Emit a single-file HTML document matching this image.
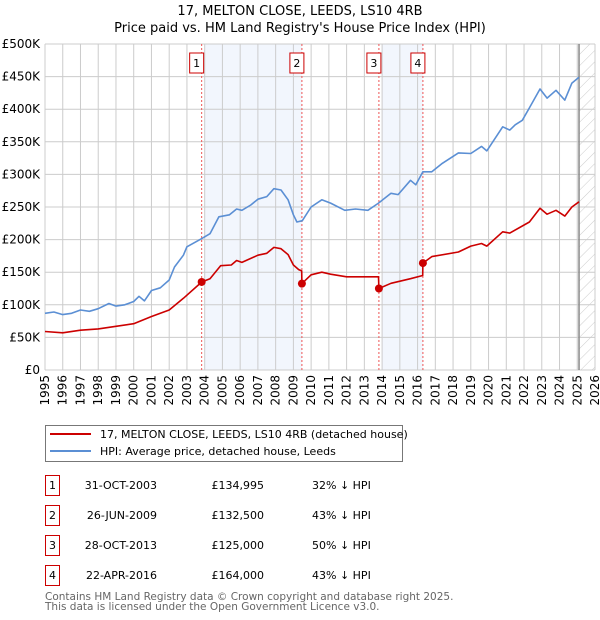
<!DOCTYPE html>
<html><head><meta charset="utf-8"><style>
body{margin:0;background:#fff;font-family:"Liberation Sans","DejaVu Sans",sans-serif;}
#wrap{position:relative;width:600px;height:620px;overflow:hidden;}
svg text{font-family:"DejaVu Sans","Liberation Sans",sans-serif;}
</style></head><body>
<div id="wrap">
<svg id="chart" width="600" height="620"></svg>
</div>
<script>
const hpiYears=[1995,1995.5,1996,1996.5,1997,1997.5,1998,1998.6,1999,1999.5,2000,2000.3,2000.6,2001,2001.5,2002,2002.3,2002.8,2003,2003.8,2004.3,2004.8,2005.4,2005.8,2006.1,2006.6,2007,2007.5,2007.9,2008.3,2008.7,2009,2009.2,2009.5,2010,2010.6,2011.1,2011.9,2012.5,2013.2,2013.8,2014.5,2014.9,2015.6,2015.9,2016.3,2016.8,2017.4,2018.3,2019,2019.6,2019.9,2020.8,2021.2,2021.5,2021.9,2022.3,2022.9,2023.3,2023.8,2024.3,2024.7,2025.1];
const hpiValues=[87,89,85,87,92,90,94,102,98,100,105,113,106,122,126,138,158,176,189,201,209,235,238,247,245,253,262,266,278,276,261,238,227,229,250,261,256,245,247,245,256,271,269,291,284,304,304,317,333,332,343,336,373,368,376,383,402,431,417,429,414,440,449];
const redYears=[1995,1996,1997,1998,1999,2000,2001,2002,2002.8,2003.83,2004.3,2004.9,2005.5,2005.8,2006.1,2007,2007.5,2007.9,2008.3,2008.7,2009,2009.3,2009.47,2009.48,2010,2010.6,2011.1,2012,2013.8,2013.82,2014.5,2015.6,2016.29,2016.3,2016.8,2018.3,2019,2019.6,2019.9,2020.8,2021.2,2022.3,2022.9,2023.3,2023.8,2024.3,2024.7,2025.1];
const redValues=[59,57,61,63,67,71,82,92,110,135,140,160,161,168,165,176,179,188,186,177,161,154,152,132.5,146,150,147,143,143,125,133,140,145,164,174,181,190,194,190,212,210,227,248,239,245,236,250,258];
const saleYears=[2003.83,2009.48,2013.82,2016.3];
const saleValues=[134.995,132.5,125,164];
const saleLabels=["1","2","3","4"];
const yTicks=[0,50,100,150,200,250,300,350,400,450,500];
const yTickLabels=["£0","£50K","£100K","£150K","£200K","£250K","£300K","£350K","£400K","£450K","£500K"];
const xTicks=[1995,1996,1997,1998,1999,2000,2001,2002,2003,2004,2005,2006,2007,2008,2009,2010,2011,2012,2013,2014,2015,2016,2017,2018,2019,2020,2021,2022,2023,2024,2025,2026];
const shadeRanges=[[2004,2009.48],[2014,2016.3]];
const dates=["31-OCT-2003","26-JUN-2009","28-OCT-2013","22-APR-2016"];
const prices=["£134,995","£132,500","£125,000","£164,000"];
const diffs=["32% ↓ HPI","43% ↓ HPI","50% ↓ HPI","43% ↓ HPI"];

const L=45,R=595,T=44,B=370;
const X=y=>L+(y-1995)/(2026-1995)*(R-L);
const Y=v=>B-v/500*(B-T);
const svg=document.getElementById('chart');const NS='http://www.w3.org/2000/svg';
function mk(tag,at,parent){const e=document.createElementNS(NS,tag);for(const k in at)e.setAttribute(k,at[k]);(parent||svg).appendChild(e);return e;}
function txt(s,at,parent){const e=mk('text',at,parent);e.textContent=s;return e;}

let t=txt('17, MELTON CLOSE, LEEDS, LS10 4RB',{x:300,y:15,'text-anchor':'middle','font-size':13,fill:'#000'});

t=txt("Price paid vs. HM Land Registry's House Price Index (HPI)",{x:300,y:32,'text-anchor':'middle','font-size':13,fill:'#000'});


shadeRanges.forEach(r=>{const e=mk('rect',{x:X(r[0]),y:T,width:X(r[1])-X(r[0]),height:B-T,fill:'#f2f6fd'});
});
const defs=mk('defs',{});const pat=mk('pattern',{id:'hatch',width:8,height:8,patternUnits:'userSpaceOnUse',patternTransform:'rotate(45)'},defs);
mk('line',{x1:0,y1:0,x2:0,y2:8,stroke:'#ccc','stroke-width':1},pat);
const hx=X(2025.1);
let h=mk('rect',{x:hx,y:T,width:R-hx,height:B-T,fill:'url(#hatch)'});


const grid=mk('g',{});
yTicks.forEach((v,i)=>{mk('line',{x1:L,x2:R,y1:Y(v),y2:Y(v),stroke:'#ccc','stroke-width':1},grid);
 const e=txt(yTickLabels[i],{x:40,y:Y(v)+4,'text-anchor':'end','font-size':12,fill:'#000'});
 });
xTicks.forEach(v=>{mk('line',{x1:X(v),x2:X(v),y1:T,y2:B,stroke:'#ccc','stroke-width':1},grid);
 const e=txt(String(v),{x:0,y:0,'text-anchor':'end','font-size':12,fill:'#000',transform:`translate(${X(v)+4},375) rotate(-90)`});
 });
mk('line',{x1:hx,x2:hx,y1:T,y2:B,stroke:'#888','stroke-width':1.5});

saleYears.forEach((y,i)=>{const e=mk('line',{x1:X(y),x2:X(y),y1:T,y2:B,stroke:'#e55','stroke-width':1,'stroke-dasharray':'2,2'});
 
 const g=mk('g',{});
 mk('rect',{x:X(y)-12,y:53,width:14,height:20,fill:'#fff',stroke:'#c00','stroke-width':1},g);
 txt(saleLabels[i],{x:X(y)-5,y:67,'text-anchor':'middle','font-size':11,fill:'#000'},g);});

function path(xs,vs,color,name){const d=xs.map((x,i)=>(i?'L':'M')+X(x).toFixed(1)+','+Y(vs[i]).toFixed(1)).join('');
 const e=mk('path',{d:d,fill:'none',stroke:color,'stroke-width':1.6,'stroke-linejoin':'round'});
 }
path(hpiYears,hpiValues,'#5b8fd4','hpi-line');
path(redYears,redValues,'#cc0000','price-paid-line');
saleYears.forEach((y,i)=>{const e=mk('circle',{cx:X(y),cy:Y(saleValues[i]),r:4,fill:'#cc0000'});
 });

const lg=mk('g',{});
mk('rect',{x:45.5,y:425.5,width:357,height:36,fill:'#fff',stroke:'#777'},lg);
mk('line',{x1:50,x2:91,y1:434,y2:434,stroke:'#cc0000','stroke-width':2},lg);
mk('line',{x1:50,x2:91,y1:451,y2:451,stroke:'#5b8fd4','stroke-width':2},lg);
let l1=txt('17, MELTON CLOSE, LEEDS, LS10 4RB (detached house)',{x:100,y:438,'font-size':11,fill:'#000'},lg);

let l2=txt('HPI: Average price, detached house, Leeds',{x:100,y:455,'font-size':11,fill:'#000'},lg);


saleLabels.forEach((s,i)=>{const yy=475+i*30;const g=mk('g',{});
 
 mk('rect',{x:45.5,y:yy+0.5,width:14,height:20,fill:'#fff',stroke:'#c00'},g);
 txt(s,{x:52.5,y:yy+14,'text-anchor':'middle','font-size':11,fill:'#000'},g);
 txt(dates[i],{x:157,y:yy+14,'text-anchor':'end','font-size':11,fill:'#000'},g);
 txt(prices[i],{x:264,y:yy+14,'text-anchor':'end','font-size':11,fill:'#000'},g);
 txt(diffs[i],{x:312,y:yy+14,'font-size':11,fill:'#000'},g);});
let f1=txt('Contains HM Land Registry data © Crown copyright and database right 2025.',{x:45,y:600,'font-size':10.5,fill:'#666'});

let f2=txt('This data is licensed under the Open Government Licence v3.0.',{x:45,y:610,'font-size':10.5,fill:'#666'});

</script>
</body></html>
